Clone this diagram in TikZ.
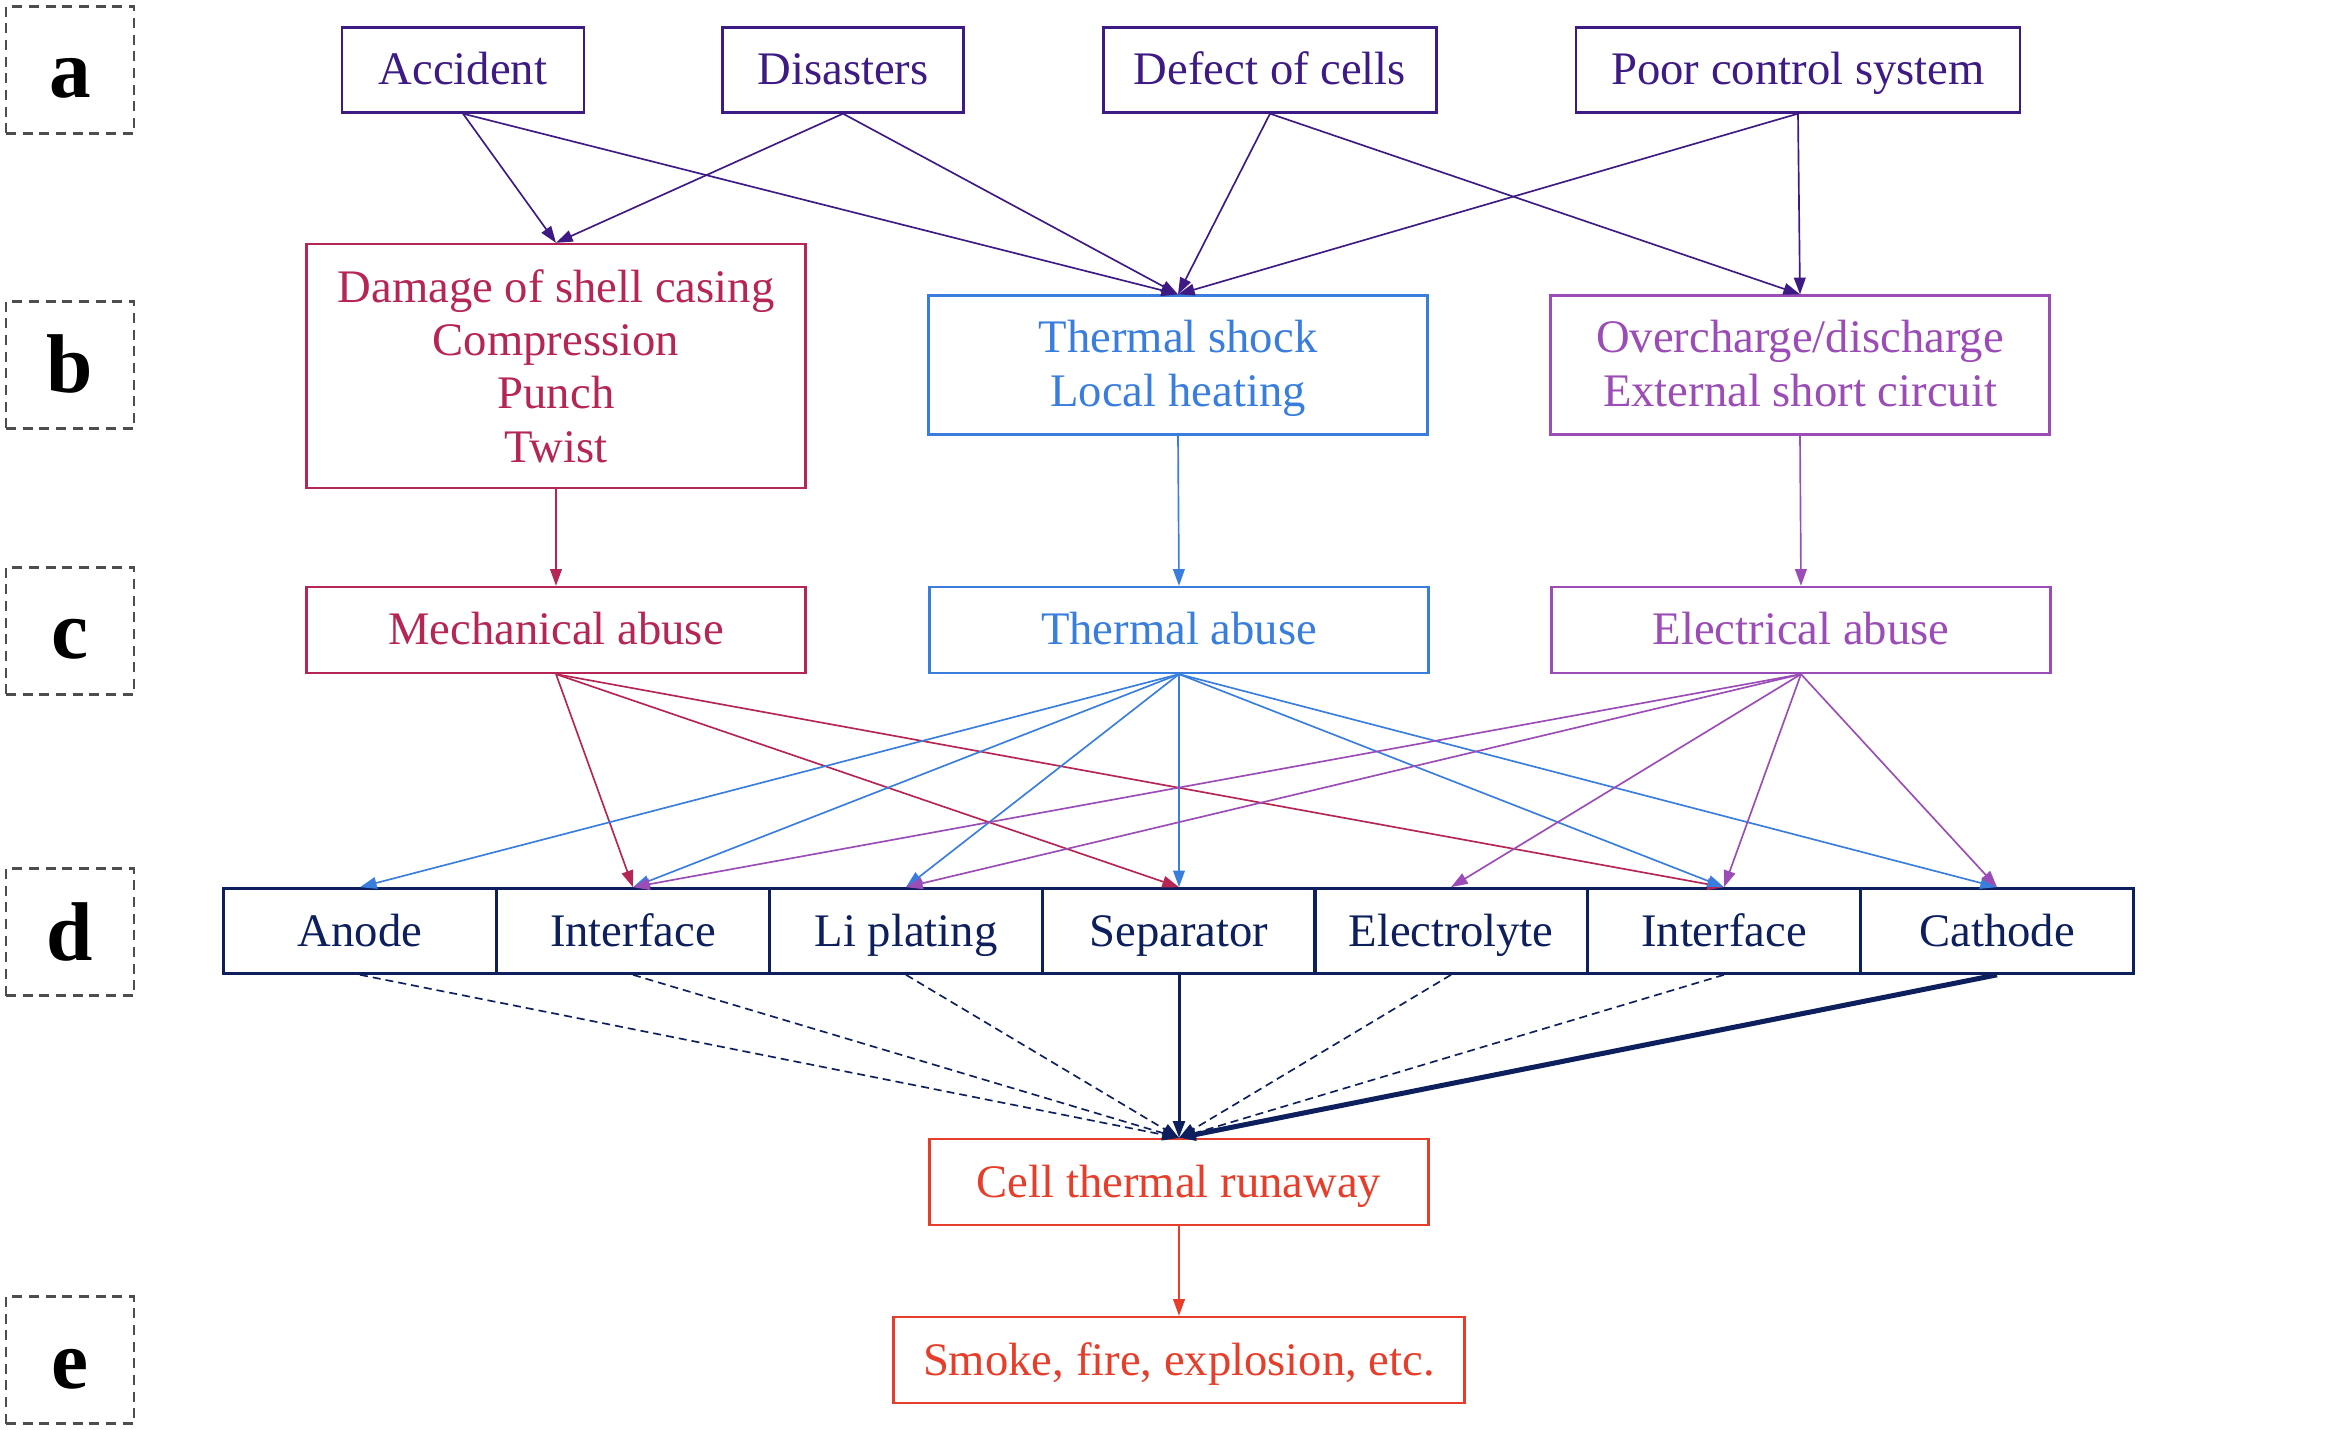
\documentclass[tikz,border=0pt]{standalone}
\usepackage{fontspec}
\setmainfont{Liberation Serif}
\usetikzlibrary{arrows.meta}
\definecolor{srccol}{HTML}{3D1A84}
\definecolor{mechcol}{HTML}{B52654}
\definecolor{thermcol}{HTML}{3A7EDD}
\definecolor{eleccol}{HTML}{9B4CB6}
\definecolor{cellcol}{HTML}{0D1F5C}
\definecolor{runcol}{HTML}{E63E2A}
\definecolor{tagcol}{HTML}{4D4D4D}
\begin{document}
\begin{tikzpicture}[x=0.3pt,y=-0.3pt,
  box/.style={draw, line width=0.7pt, inner sep=0pt, align=center, font=\fontsize{14}{16}\selectfont},
  oneline/.style={text height=12pt, text depth=3pt},
  srcbox/.style={box, oneline, draw=srccol, text=srccol, minimum height=25.5pt},
  mechbox/.style={box, draw=mechcol, text=mechcol, minimum width=149.7pt},
  thermbox/.style={box, draw=thermcol, text=thermcol, minimum width=149.7pt},
  elecbox/.style={box, draw=eleccol, text=eleccol, minimum width=149.7pt},
  cellbox/.style={box, oneline, draw=cellcol, text=cellcol, line width=0.8pt, minimum width=81.9pt, minimum height=25.5pt},
  runbox/.style={box, oneline, draw=runcol, text=runcol, minimum height=25.8pt},
  tag/.style={draw=tagcol, dash pattern=on 3pt off 2pt, line width=0.8pt, minimum width=38.4pt, minimum height=38.1pt, inner sep=0pt, text height=16.8pt, text depth=0pt, font=\fontsize{25}{25}\selectfont\bfseries},
  link/.style={-{Triangle[length=5pt,width=3.5pt]}, line width=0.5pt}]
\useasboundingbox (0,0) rectangle (2346,1430);
\node[tag] (ta) at (70,70) {a};
\node[tag] (tb) at (70,365) {b};
\node[tag] (tc) at (70,631) {c};
\node[tag] (td) at (70,932) {d};
\node[tag] (te) at (70,1360) {e};
\node[srcbox, minimum width=72.6pt] (accident) at (463,70) {Accident};
\node[srcbox, minimum width=72.3pt] (disaster) at (843,70) {Disasters};
\node[srcbox, minimum width=99.9pt] (defect) at (1270,70) {Defect of cells};
\node[srcbox, minimum width=133.2pt] (control) at (1798,70) {Poor control system};
\node[mechbox, minimum height=73.2pt] (damage) at (556,366) {Damage of shell casing\\Compression\\Punch\\Twist};
\node[thermbox, minimum height=41.7pt] (shock) at (1178,365) {\rule{0pt}{11.8pt}Thermal shock\\Local heating\rule[-3pt]{0pt}{3pt}};
\node[elecbox, minimum height=41.7pt] (charge) at (1800,365) {\rule{0pt}{11.8pt}Overcharge/discharge\\External short circuit\rule[-3pt]{0pt}{3pt}};
\node[mechbox, oneline, minimum height=25.8pt] (mech) at (556,630) {Mechanical abuse};
\node[thermbox, oneline, minimum height=25.8pt] (therm) at (1179,630) {Thermal abuse};
\node[elecbox, oneline, minimum height=25.8pt] (elec) at (1801,630) {Electrical abuse};
\node[cellbox] (anode) at (360,931) {Anode};
\node[cellbox] (ifa) at (633,931) {Interface};
\node[cellbox] (liplate) at (906,931) {Li plating};
\node[cellbox] (sep) at (1179,931) {Separator};
\node[cellbox] (elyte) at (1451,931) {Electrolyte};
\node[cellbox] (ifc) at (1724,931) {Interface};
\node[cellbox] (cathode) at (1997,931) {Cathode};
\node[runbox, minimum width=149.7pt] (run) at (1179,1182) {Cell thermal runaway};
\node[runbox, minimum width=171.3pt] (smoke) at (1179,1360) {Smoke, fire, explosion, etc.};
\draw[link, srccol] (accident.south) -- (damage.north);
\draw[link, srccol] (accident.south) -- (shock.north);
\draw[link, srccol] (disaster.south) -- (damage.north);
\draw[link, srccol] (disaster.south) -- (shock.north);
\draw[link, srccol] (defect.south) -- (shock.north);
\draw[link, srccol] (defect.south) -- (charge.north);
\draw[link, srccol] (control.south) -- (shock.north);
\draw[link, srccol] (control.south) -- (charge.north);
\draw[link, mechcol] (damage.south) -- (mech.north);
\draw[link, thermcol] (shock.south) -- (therm.north);
\draw[link, eleccol] (charge.south) -- (elec.north);
\draw[link, mechcol] (mech.south) -- (ifa.north);
\draw[link, mechcol] (mech.south) -- (sep.north);
\draw[link, mechcol] (mech.south) -- (ifc.north);
\draw[link, thermcol] (therm.south) -- (anode.north);
\draw[link, thermcol] (therm.south) -- (ifa.north);
\draw[link, thermcol] (therm.south) -- (liplate.north);
\draw[link, thermcol] (therm.south) -- (sep.north);
\draw[link, thermcol] (therm.south) -- (ifc.north);
\draw[link, thermcol] (therm.south) -- (cathode.north);
\draw[link, eleccol] (elec.south) -- (ifa.north);
\draw[link, eleccol] (elec.south) -- (liplate.north);
\draw[link, eleccol] (elec.south) -- (elyte.north);
\draw[link, eleccol] (elec.south) -- (ifc.north);
\draw[link, eleccol] (elec.south) -- (cathode.north);
\draw[link, cellcol, dash pattern=on 2.4pt off 1.5pt] (anode.south) -- (run.north);
\draw[link, cellcol, dash pattern=on 2.4pt off 1.5pt] (ifa.south) -- (run.north);
\draw[link, cellcol, dash pattern=on 2.4pt off 1.5pt] (liplate.south) -- (run.north);
\draw[link, cellcol, dash pattern=on 2.4pt off 1.5pt] (elyte.south) -- (run.north);
\draw[link, cellcol, dash pattern=on 2.4pt off 1.5pt] (ifc.south) -- (run.north);
\draw[link, cellcol, line width=0.9pt] (sep.south) -- (run.north);
\draw[link, cellcol, line width=1.5pt] (cathode.south) -- (run.north);
\draw[link, runcol] (run.south) -- (smoke.north);
\end{tikzpicture}
\end{document}
